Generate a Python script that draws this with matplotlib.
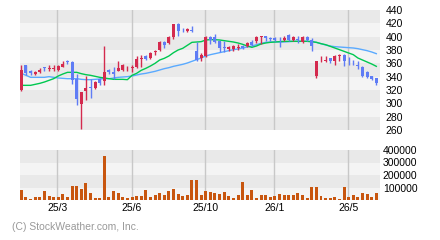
import matplotlib
matplotlib.use("Agg")
import matplotlib.pyplot as plt
import numpy as np

# ---------------- data (weekly candles) ----------------
opens = [320.5, 357.5, 348, 344.5, 347.5, 354, 351.5, 352, 350, 355,
         363, 362, 337, 299.5, 319, 324, 323, 337, 333, 349.5,
         347, 349, 350.5, 352.5, 353, 354, 367, 370.5, 368, 377,
         379.5, 391.5, 390.5, 399, 419, 412, 408, 409.5, 378, 368,
         370.5, 399, 399.5, 393, 384, 381.5, 382, 383.5, 386.5, 385.5,
         391.5, 394, 400, 400.5, 397.5, 398, 395, 394.5, 403, 395.5,
         396, 391.5, 399.5, 395.5, 340.5, 363, 363.5, 368, 364, 371.5,
         372, 364, 362, 357, 354, 347, 340.5, 338]
highs = [357, 358, 350, 349, 353, 355, 357, 357, 357, 364,
         364.5, 364, 344, 317, 341, 336, 334, 338, 386.5, 351.5,
         354.5, 364, 359, 355.5, 358, 370.5, 373, 373, 376.5, 380.5,
         393, 393, 401, 419, 420.5, 413, 413, 415.5, 391.5, 375.5,
         400.5, 400.5, 404, 393, 394, 385.5, 388, 389, 388, 391.5,
         395, 400.5, 401, 401, 400, 399.5, 399, 401.5, 404, 400.5,
         400.5, 400.5, 400.5, 398, 364, 370.5, 370.5, 368, 373, 374,
         374, 369, 365.5, 363, 355.5, 348, 341.5, 338]
lows = [319, 343, 343, 343, 346, 349, 349, 349, 349, 354,
        359, 329, 298, 262, 305, 307.5, 322, 327, 328, 344,
        336.5, 348, 348, 348, 346.5, 353, 354, 365.5, 367, 373,
        378, 383, 389, 397, 400.5, 406.5, 406.5, 406.5, 363, 364,
        369, 389, 390.5, 376.5, 377, 379, 379, 380.5, 381.5, 384,
        385.5, 390.5, 389, 394, 393, 394, 384, 393, 393, 393,
        390.5, 390, 393, 379, 338, 361.5, 361.5, 360.5, 358, 364,
        355.5, 358, 357, 351.5, 339, 338, 335, 328]
closes = [350.5, 345.5, 345, 347.5, 350.5, 353, 352, 352.5, 355.5, 359,
          362.5, 335.5, 306.5, 317, 323, 322.5, 332, 330.5, 347, 346.5,
          343.5, 353, 357, 353, 354, 366.5, 368, 367, 375.5, 378,
          391.5, 387, 399.5, 419, 409, 411, 412, 409, 365.5, 372,
          399.5, 394.5, 391.5, 383, 383, 384, 386.5, 384, 383, 390.5,
          387, 399, 400.5, 398, 397, 395.5, 394.5, 398, 394.5, 399.5,
          395.5, 399.5, 394.5, 385.5, 363, 364, 364, 363, 370.5, 372,
          363, 363, 361.5, 356, 340.5, 339, 337, 330.5]
volumes = [80000, 26700, 8000, 26700, 26700, 72000, 32000, 26700, 26700, 48000,
           26700, 112000, 112000, 88000, 136000, 56000, 18700, 18700, 352000, 26700,
           72000, 56000, 26700, 18700, 26700, 34700, 34700, 80000, 26700, 40000,
           56000, 40000, 72000, 88000, 48000, 34700, 40000, 160000, 160000, 40000,
           72000, 64000, 56000, 48000, 64000, 32000, 16000, 40000, 144000, 40000,
           80000, 16000, 40000, 40000, 24000, 32000, 48000, 40000, 40000, 40000,
           56000, 40000, 16000, 104000, 104000, 32000, 16000, 16000, 24000, 8000,
           104000, 24000, 40000, 24000, 56000, 48000, 24000, 56000]
ma_short = [327, 327, 327, 328.5, 330, 332, 334.5, 337, 341, 344,
            346.5, 346.5, 346.5, 344.5, 343, 342, 340.5, 339, 338, 337,
            336, 336, 336, 335.5, 342, 345, 349.5, 352.5, 356, 360,
            365, 367.5, 371, 376, 380, 382.5, 387, 391.5, 392, 392.5,
            395, 395.5, 395.5, 395, 394, 393, 392, 390.5, 388.5, 386,
            384, 386, 389, 390.5, 391.5, 392, 392.5, 393, 393, 393,
            393, 393, 393, 392.5, 391.5, 389.5, 388, 385.5, 383, 380.5,
            378, 375.5, 373, 368, 365, 362, 359, 355.5]
ma_long = [345, 342, 339, 339, 339, 339, 340, 339, 338, 337.5,
           337, 337, 337, 336, 335.5, 335.5, 336, 336.5, 337, 337,
           338, 339, 339.5, 340, 341, 342.5, 344, 345, 346.5, 348,
           350, 352, 353.5, 355.5, 357, 358.5, 360.5, 363, 365.5, 368,
           371, 373, 374.5, 376, 377.5, 379, 380.5, 381.5, 383, 384.5,
           386, 388, 390, 391.5, 392, 392, 392, 392, 392.5, 393,
           393, 393, 393, 392.5, 391.5, 389.5, 387.5, 386, 385, 384.5,
           384, 383.5, 383, 382, 380.5, 379, 377, 374.5]
x_tick_pos = [7.8, 23.9, 39.9, 54.9, 70.9]
x_tick_labels = ["25/3", "25/6", "25/10", "26/1", "26/5"]
price_ticks = [260, 280, 300, 320, 340, 360, 380, 400, 420, 440]
vol_ticks = [100000, 200000, 300000, 400000]

# ---------------- styling ----------------
RED = "#d42a4e"
BLUE = "#5f7cf5"
VOLC = "#c8560f"
GREEN = "#00c850"
LBLUE = "#5aaaff"
DARK = "#e9e9e9"
LIGHT = "#f4f4f4"
GRID = "#c8c8c8"
FONT = "Liberation Sans"
FS = 7.5

fig = plt.figure(figsize=(4.4, 2.4), dpi=100)
fig.patch.set_facecolor("white")
ax = fig.add_axes([20/440, 1-130/240, 360/440, 120/240])
axv = fig.add_axes([20/440, 1-200/240, 360/440, 50/240])

n = len(opens)
x = np.arange(n)
xlim = (-0.3, 77.8)

# background bands
for i, lo in enumerate(range(260, 440, 20)):
    ax.axhspan(lo, lo+20, color=DARK if i % 2 == 0 else LIGHT, lw=0, zorder=0)
for i, lo in enumerate(range(0, 400000, 100000)):
    axv.axhspan(lo, lo+100000, color=LIGHT if i % 2 == 0 else DARK, lw=0, zorder=0)

for a in (ax, axv):
    for xp in x_tick_pos:
        a.axvline(xp, color=GRID, lw=1, zorder=1)

# moving averages
ax.plot(x, ma_long, color=LBLUE, lw=1, zorder=2)
ax.plot(x, ma_short, color=GREEN, lw=1, zorder=2)

# candles
o = np.array(opens); c = np.array(closes)
cols = [RED if cc >= oo else BLUE for oo, cc in zip(o, c)]
ax.vlines(x, lows, highs, colors=cols, lw=1, zorder=3)
bottoms = np.minimum(o, c)
heights = np.maximum(np.abs(c - o), 1.0)
ax.bar(x, heights, bottom=bottoms, width=0.65, color=cols, lw=0, zorder=4)

# volume
axv.bar(x, volumes, width=0.65, color=VOLC, lw=0, zorder=3)

ax.set_xlim(*xlim); axv.set_xlim(*xlim)
ax.set_ylim(260, 440)
axv.set_ylim(0, 400000)

for a in (ax, axv):
    for s in a.spines.values():
        s.set_visible(False)
    a.tick_params(length=0)
    a.yaxis.tick_right()

ax.set_xticks([])
ax.set_yticks(price_ticks)
ax.set_yticklabels([str(t) for t in price_ticks], fontsize=FS, family=FONT)
ax.tick_params(axis="y", pad=4)

axv.set_yticks(vol_ticks)
axv.set_yticklabels([str(t) for t in vol_ticks], fontsize=FS, family=FONT)
axv.tick_params(axis="y", pad=2)
axv.set_xticks(x_tick_pos)
axv.set_xticklabels(x_tick_labels, fontsize=FS, family=FONT)
axv.tick_params(axis="x", pad=2)

fig.text(12/440, 1-227/240, "(C) StockWeather.com, Inc.", fontsize=FS,
         family=FONT, color="#999999", va="center", ha="left")

fig.savefig("out.png", dpi=100, facecolor="white")
